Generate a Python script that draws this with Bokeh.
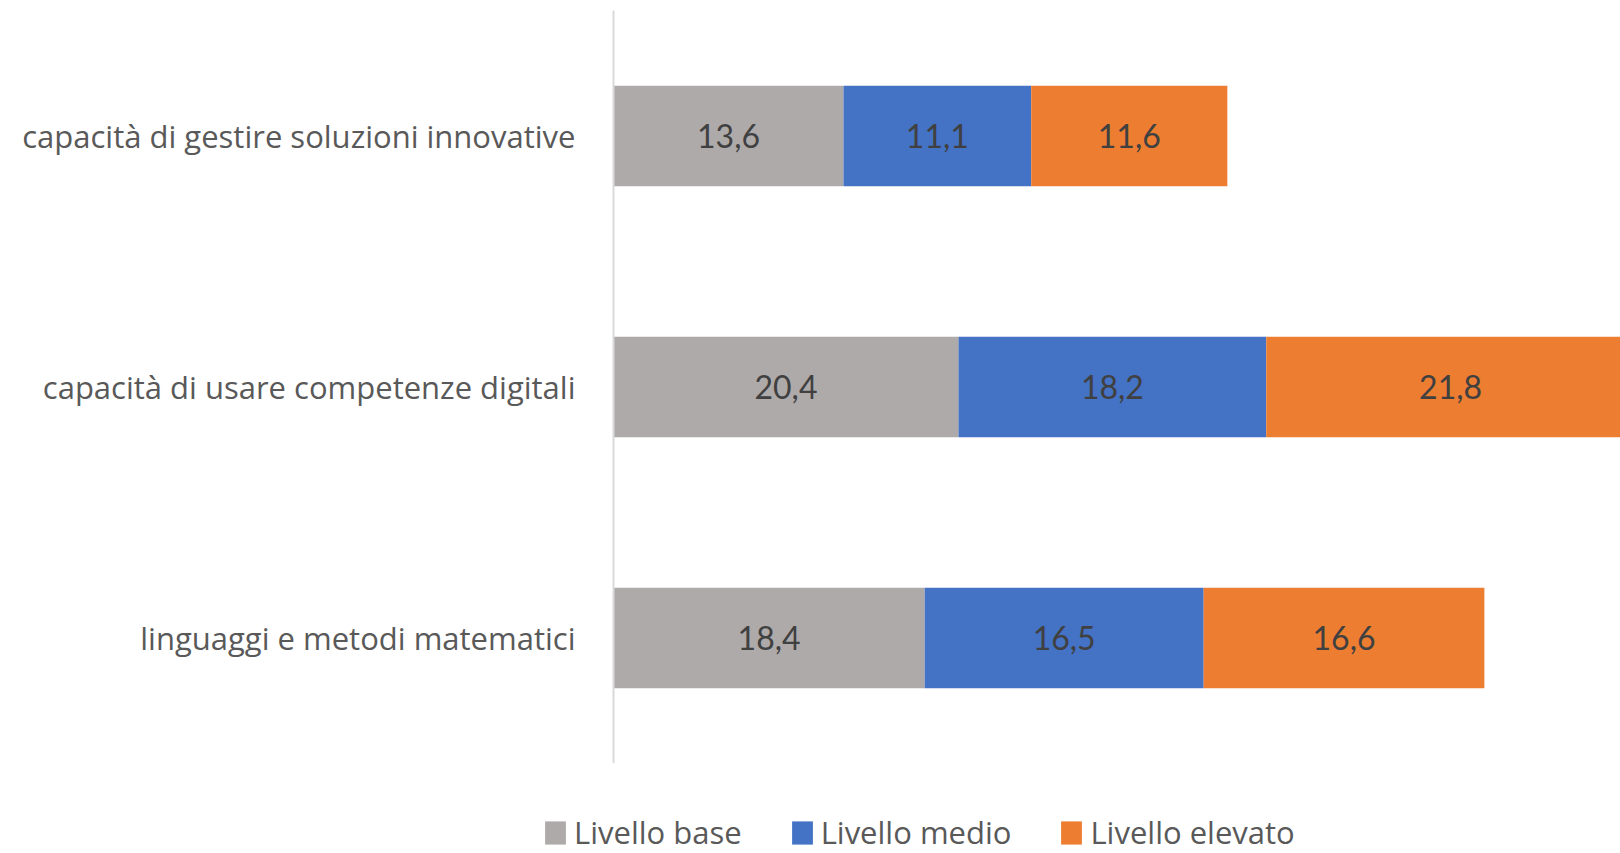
from bokeh.plotting import figure
from bokeh.models import (ColumnDataSource, FactorRange, Range1d, LabelSet,
                          Legend, LegendItem)
from bokeh.core.properties import value
from bokeh.embed import file_html
from bokeh.resources import INLINE

categories = ["linguaggi e metodi matematici",
              "capacità di usare competenze digitali",
              "capacità di gestire soluzioni innovative"]
livello_base = [18.4, 20.4, 13.6]
livello_medio = [16.5, 18.2, 11.1]
livello_elevato = [16.6, 21.8, 11.6]
series_names = ["Livello base", "Livello medio", "Livello elevato"]
colors = ["#AEAAAA", "#4472C4", "#ED7D31"]

keys = ["base", "medio", "elevato"]
data = dict(cat=categories, base=livello_base, medio=livello_medio,
            elevato=livello_elevato)
source = ColumnDataSource(data)

FONT = "Open Sans"

p = figure(y_range=FactorRange(*categories, range_padding=0),
           x_range=Range1d(0, 59.55),
           width=1620, height=763, output_backend="svg",
           toolbar_location=None, min_border_left=613, min_border_right=0,
           min_border_top=10, min_border_bottom=0)
p.outline_line_color = None
p.xgrid.visible = False
p.ygrid.visible = False
p.xaxis.visible = False

renderers = p.hbar_stack(keys, y="cat", height=0.4, color=colors,
                         source=source, line_color=None)

# value labels centered in each segment
left = [0.0] * len(categories)
for k in keys:
    vals = data[k]
    mids = [l + v / 2 for l, v in zip(left, vals)]
    txt = [f"{v:.1f}".replace(".", ",") for v in vals]
    ls = ColumnDataSource(dict(x=mids, y=categories, t=txt))
    p.add_layout(LabelSet(x="x", y="y", text="t", source=ls,
                          text_align="center", text_baseline="middle",
                          text_font=value("Lato"), text_font_size="32px",
                          text_color="#404040"))
    left = [l + v for l, v in zip(left, vals)]

ax = p.yaxis[0]
ax.axis_line_color = "#D9D9D9"
ax.axis_line_width = 2
ax.major_tick_line_color = None
ax.minor_tick_line_color = None
ax.major_label_standoff = 32
ax.major_label_text_font = FONT
ax.major_label_text_font_size = "31px"
ax.major_label_text_color = "#595959"

# separate strip (own root) for the legend, below the chart
lg = figure(width=1620, height=90, output_backend="svg", toolbar_location=None,
            x_axis_type=None, y_axis_type=None,
            x_range=Range1d(0, 1), y_range=Range1d(0, 1),
            min_border_left=0, min_border_right=0,
            min_border_top=0, min_border_bottom=0)
lg.outline_line_color = None
lg.xgrid.visible = False
lg.ygrid.visible = False
# proxy glyphs kept outside the visible range; only used for legend swatches
proxy = ColumnDataSource(dict(x=[-5], y=[-5]))
items = []
for n, c in zip(series_names, colors):
    r = lg.rect(x="x", y="y", width=0.1, height=0.1, source=proxy,
                fill_color=c, line_color=None)
    items.append(LegendItem(label=n, renderers=[r]))
legend = Legend(items=items, orientation="horizontal", location=(542, 0),
                border_line_color=None, background_fill_alpha=0,
                padding=0, margin=0, spacing=47, label_standoff=6,
                glyph_width=26, glyph_height=29,
                label_text_font=FONT, label_text_font_size="31px",
                label_text_color="#595959")
lg.add_layout(legend, "center")

open("out.html", "w").write(file_html([p, lg], INLINE))
